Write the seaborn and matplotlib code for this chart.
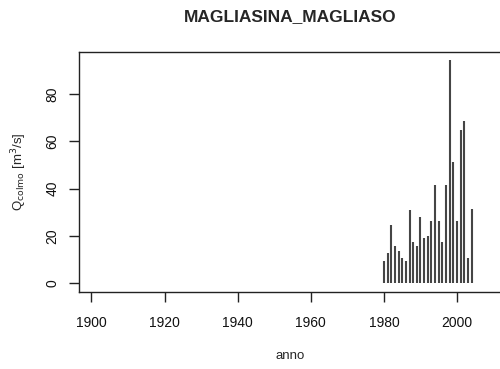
import numpy as np
import pandas as pd
import seaborn as sns
import matplotlib.pyplot as plt

# data
anni = list(range(1980, 2005))
q_colmo = [9.3, 12.7, 24.5, 15.6, 13.5, 10.5, 9.3, 30.9, 17.4, 15.6,
           28.0, 19.1, 19.7, 26.2, 41.4, 26.2, 17.4, 41.4, 94.5, 51.3,
           26.2, 64.9, 68.8, 10.5, 31.3]
x_ticks = [1900, 1920, 1940, 1960, 1980, 2000]
y_ticks = [0, 20, 40, 60, 80]

df = pd.DataFrame({"anno": anni, "Q": q_colmo})

sns.set_style("ticks")
plt.rcParams["font.family"] = ["Liberation Sans", "DejaVu Sans"]

fig = plt.figure(figsize=(5.0, 3.69), dpi=100)
ax = fig.add_axes([0.158, 0.2087, 0.846, 0.6504])

# R "type='h'" style: a vertical stick per year
ax.vlines(df["anno"], 0, df["Q"], colors="#454545", linewidth=1.5)

ax.set_xlim(1896.6, 2012.3)
ax.set_ylim(-3.9, 98.0)
ax.set_xticks(x_ticks)
ax.set_yticks(y_ticks)
ax.set_yticklabels([str(v) for v in y_ticks], rotation=90, va="center")

for sp in ax.spines.values():
    sp.set_visible(True)
    sp.set_color("#222222")
    sp.set_linewidth(1.0)
ax.tick_params(axis="both", direction="out", length=7, width=1.0,
               color="#222222", labelsize=10, labelcolor="#111111")
ax.tick_params(axis="x", pad=10)
ax.tick_params(axis="y", pad=7)

ax.set_xlabel("anno", fontsize=9.5, labelpad=15)
ax.set_ylabel(r"Q$_{\mathrm{colmo}}$ [m$^3$/s]", fontsize=9.5, labelpad=12)
ax.set_title("MAGLIASINA_MAGLIASO", fontsize=12.5, fontweight="bold", pad=22)
sns.despine(ax=ax, top=False, right=False)

fig.savefig("out.png", dpi=100)
